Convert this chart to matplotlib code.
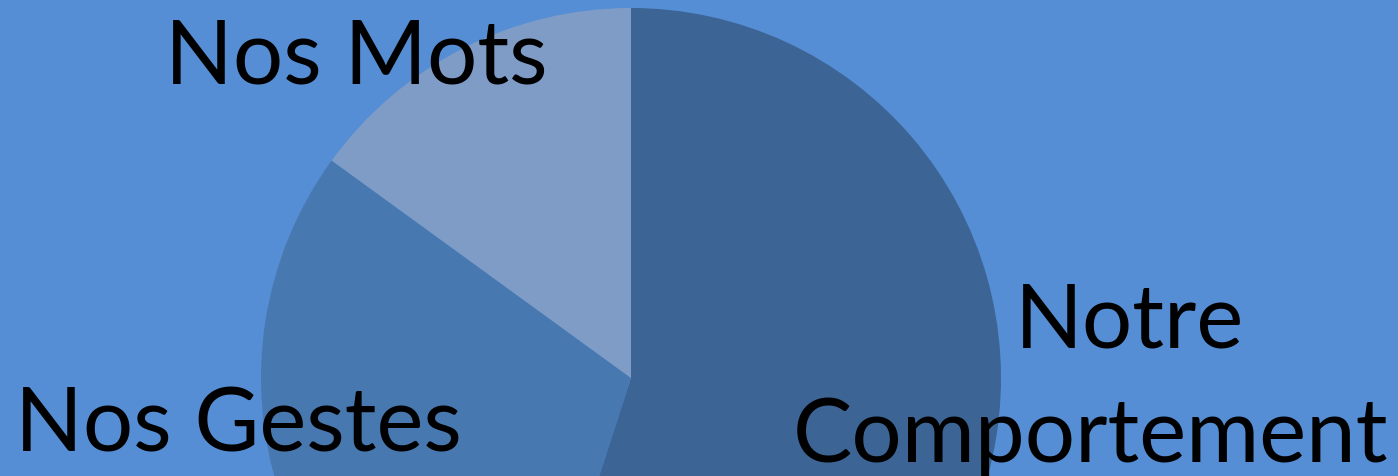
import matplotlib
matplotlib.use("Agg")
import matplotlib.pyplot as plt

categories = ["Notre\nComportement", "Nos Gestes", "Nos Mots"]
values = [55, 30, 15]
colors = ["#3C6595", "#4878B0", "#7F9CC7"]
bg = "#558ED5"

W, H = 1398, 476
fig = plt.figure(figsize=(W / 100, H / 100), dpi=100, facecolor=bg)
ax = fig.add_axes([0, 0, 1, 1])
ax.set_facecolor(bg)
ax.set_xlim(0, W)
ax.set_ylim(0, H)
ax.set_aspect("equal")
ax.axis("off")

cx, cy, r = 631, H - 378, 370
ax.pie(values, colors=colors, startangle=90, counterclock=False,
       center=(cx, cy), radius=r, frame=True,
       wedgeprops=dict(linewidth=0))
ax.set_xlim(0, W)
ax.set_ylim(0, H)
ax.axis("off")

font = dict(family=["Lato", "DejaVu Sans"], fontsize=64, color="black")
ax.text(165, H - 83, "Nos Mots", ha="left", va="baseline", **font)
ax.text(15, H - 452, "Nos Gestes", ha="left", va="baseline", **font)
ax.text(1015, H - 347, "Notre", ha="left", va="baseline", **font)
ax.text(793, H - 462, "Comportement", ha="left", va="baseline", **font)

fig.savefig("out.png", dpi=100, facecolor=bg)
